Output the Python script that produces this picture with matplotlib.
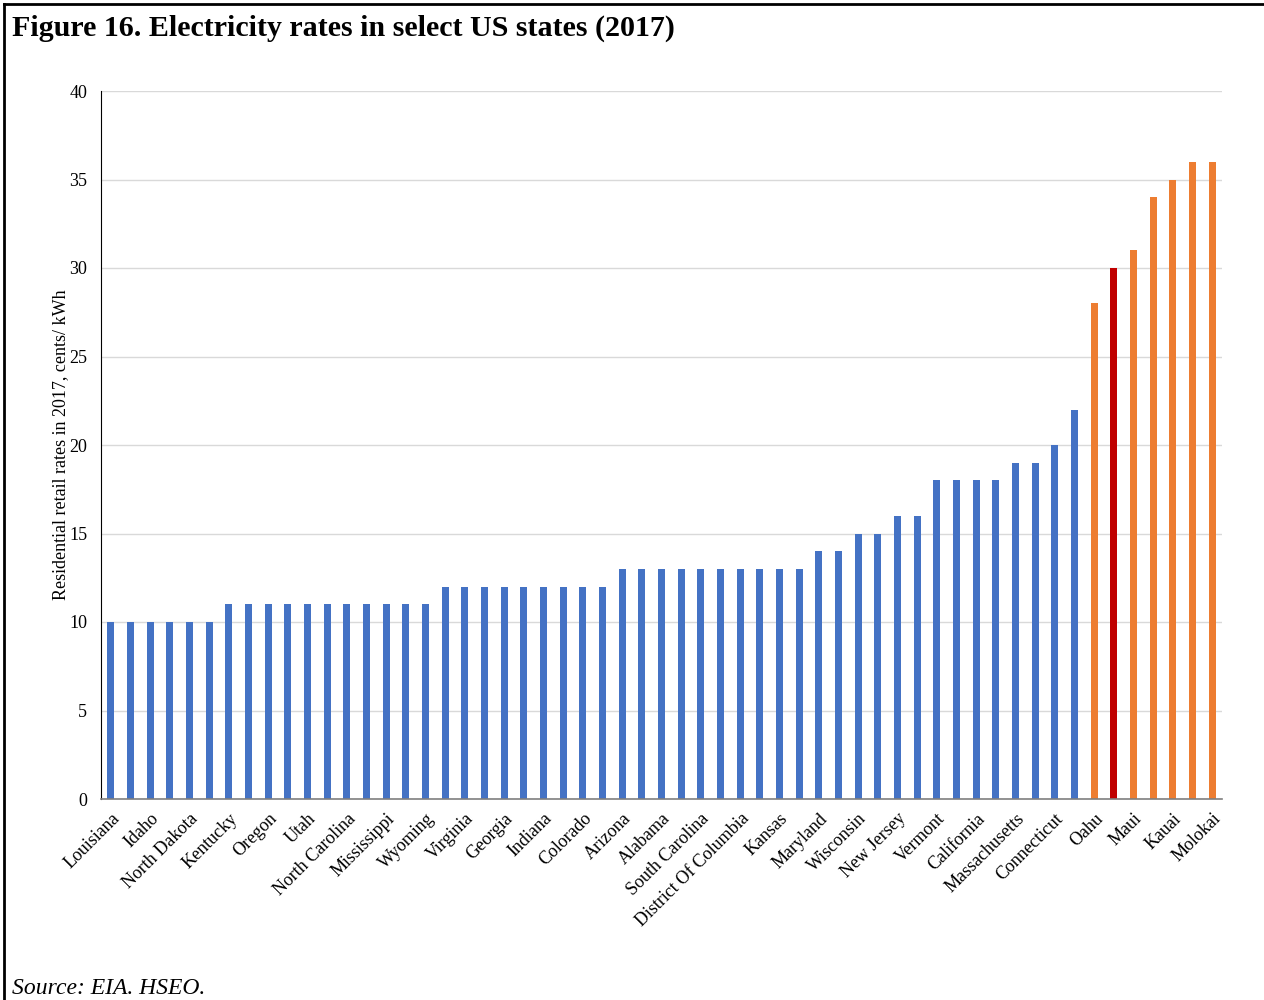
import numpy as np
import matplotlib.pyplot as plt
from matplotlib.lines import Line2D

plt.rcParams['font.family'] = ['Liberation Serif', 'DejaVu Serif']

# Residential retail rates, cents/kWh (2017), sorted ascending
rates = [10] * 6 + [11] * 11 + [12] * 9 + [13] * 10 + [14, 14, 15, 15, 16, 16,
         18, 18, 18, 18, 19, 19, 20, 22, 28, 30, 31, 34, 35, 36, 36]

# only every other bar is labelled in the source figure
labels = ['Louisiana', 'Idaho', 'North Dakota', 'Kentucky', 'Oregon', 'Utah',
          'North Carolina', 'Mississippi', 'Wyoming', 'Virginia', 'Georgia',
          'Indiana', 'Colorado', 'Arizona', 'Alabama', 'South Carolina',
          'District Of Columbia', 'Kansas', 'Maryland', 'Wisconsin',
          'New Jersey', 'Vermont', 'California', 'Massachusetts',
          'Connecticut', 'Oahu', 'Maui', 'Kauai', 'Molokai']

# mainland states blue, Hawaii islands orange, one highlighted in red
n_mainland = 50
highlight = 51

blue = '#4472C4'
orange = '#ED7D31'
red = '#C00000'

colors = []
for i in range(len(rates)):
    if i == highlight:
        colors.append(red)
    elif i >= n_mainland:
        colors.append(orange)
    else:
        colors.append(blue)

fig = plt.figure(figsize=(12.64, 10), dpi=100)
ax = fig.add_axes([101 / 1264, 1 - 799 / 1000, 1121 / 1264, 708 / 1000])

x = np.arange(len(rates))
ax.bar(x, rates, width=0.36, color=colors, zorder=2)

ax.set_xlim(-0.5, len(rates) - 0.5)
ax.set_ylim(0, 40)
ax.set_yticks(range(0, 41, 5))
ax.yaxis.grid(True, color='#d9d9d9', linewidth=1, zorder=0)
ax.set_xticks(x[::2])
ax.set_xticklabels(labels, rotation=45, ha='right', rotation_mode='anchor',
                   fontsize=13)
ax.tick_params(axis='both', length=0, colors='#000000')
ax.tick_params(axis='y', labelsize=13, pad=10)
ax.tick_params(axis='x', pad=8)

for s in ['top', 'right']:
    ax.spines[s].set_visible(False)
ax.spines['left'].set_color('#000000')
ax.spines['left'].set_linewidth(0.8)
ax.spines['bottom'].set_color('#7f7f7f')
ax.spines['bottom'].set_linewidth(1.2)

ax.set_ylabel('Residential retail rates in 2017, cents/ kWh', fontsize=13,
              labelpad=0)

fig.text(12 / 1264, 1 - 28 / 1000,
         'Figure 16. Electricity rates in select US states (2017)',
         fontsize=21.6, fontweight='bold', va='center', ha='left')
fig.text(12 / 1264, 1 - 988 / 1000, 'Source: EIA. HSEO.', fontsize=17,
         style='italic', va='center', ha='left')

# frame lines on top and left of the figure
fig.add_artist(Line2D([4 / 1264, 4 / 1264], [0, 1 - 4 / 1000],
                      color='black', linewidth=2, transform=fig.transFigure))
fig.add_artist(Line2D([4 / 1264, 1], [1 - 4 / 1000, 1 - 4 / 1000],
                      color='black', linewidth=2, transform=fig.transFigure))

fig.savefig('out.png', dpi=100)
